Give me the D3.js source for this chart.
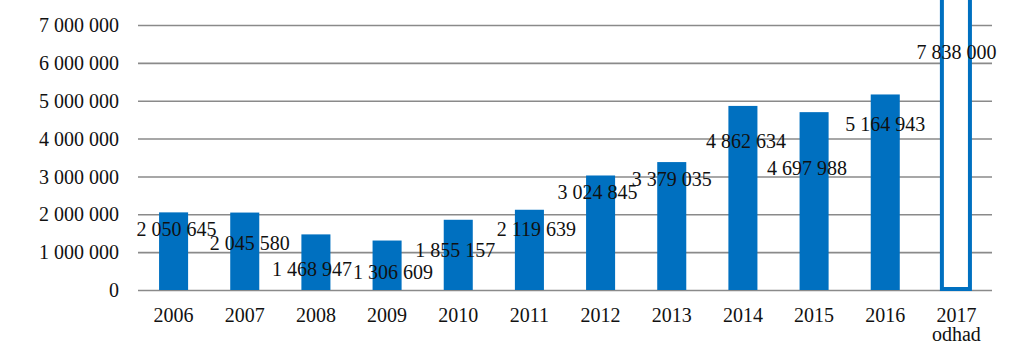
<!DOCTYPE html>
<html>
<head>
<meta charset="utf-8">
<script src="https://cdn.jsdelivr.net/npm/d3@7"></script>
<style>
  html, body { margin: 0; padding: 0; background: #fff; }
  svg { display: block; }
  text { font-family: "Liberation Serif", "Times New Roman", serif; fill: #111; }
</style>
</head>
<body>
<svg id="chart" width="1024" height="353"></svg>
<script>
// ---- data ----
const years = ["2006", "2007", "2008", "2009", "2010", "2011", "2012", "2013", "2014", "2015", "2016", "2017"];
const yearNotes = ["", "", "", "", "", "", "", "", "", "", "", "odhad"];
const values = [2050645, 2045580, 1468947, 1306609, 1855157, 2119639, 3024845, 3379035, 4862634, 4697988, 5164943, 7838000];
const isEstimate = [false, false, false, false, false, false, false, false, false, false, false, true];
const yTicks = [0, 1000000, 2000000, 3000000, 4000000, 5000000, 6000000, 7000000];

// ---- layout (label nudges in px, relative to bar centre / bar top) ----
const labelDx = [3, 5, -4, 6, -3, 7, -3, 0, 3, -7, 0, 0];
const labelDy = [17, 31, 35, 32, 31, 20, 17, 17, 35, 56, 30, 59];

const margin = { left: 138, right: 32, top: 25, bottom: 63 };
const W = 1024, H = 353;
const innerW = W - margin.left - margin.right;
const innerH = H - margin.top - margin.bottom;

const svg = d3.select("#chart");
const g = svg.append("g").attr("transform", `translate(${margin.left},${margin.top})`);

const x = d3.scaleBand().domain(years).range([0, innerW]).paddingInner(0.592).paddingOuter(0.296);
const y = d3.scaleLinear().domain([0, 7000000]).range([innerH, 0]);

const locale = d3.formatLocale({ decimal: ",", thousands: " ", grouping: [3], currency: ["", ""] });
const fmt = locale.format(",d");

// gridlines + y labels
const yAxis = d3.axisLeft(y).tickValues(yTicks).tickSize(-innerW).tickPadding(19).tickFormat(fmt);
const ya = g.append("g").call(yAxis);
ya.select(".domain").remove();
ya.selectAll(".tick line").attr("stroke", "#8a8a8a").attr("stroke-width", 1.6);
ya.selectAll(".tick text")
  .attr("font-family", "Liberation Serif, serif")
  .attr("font-size", 20).attr("fill", "#111").attr("dy", "0.33em");

// bars
const data = years.map((yr, i) => ({ yr, v: values[i], est: isEstimate[i], note: yearNotes[i], i }));

g.selectAll("rect.bar").data(data.filter(d => !d.est)).enter().append("rect")
  .attr("class", "bar")
  .attr("x", d => x(d.yr)).attr("width", x.bandwidth())
  .attr("y", d => y(d.v)).attr("height", d => y(0) - y(d.v))
  .attr("fill", "#0070C0");

g.selectAll("rect.est").data(data.filter(d => d.est)).enter().append("rect")
  .attr("class", "est")
  .attr("x", d => x(d.yr)).attr("width", x.bandwidth() - 1)
  .attr("y", d => y(d.v)).attr("height", d => y(0) - y(d.v) - 1)
  .attr("fill", "#fff").attr("stroke", "#0070C0").attr("stroke-width", 4);

// data labels
g.selectAll("text.lbl").data(data).enter().append("text")
  .attr("class", "lbl")
  .attr("x", d => x(d.yr) + x.bandwidth() / 2 + labelDx[d.i])
  .attr("y", d => y(d.v) + labelDy[d.i])
  .attr("dy", "0.33em")
  .attr("text-anchor", "middle")
  .attr("font-size", 20)
  .text(d => fmt(d.v));

// x labels
const xl = g.selectAll("text.xl").data(data).enter().append("text")
  .attr("class", "xl")
  .attr("text-anchor", "middle")
  .attr("font-size", 20)
  .attr("x", d => x(d.yr) + x.bandwidth() / 2)
  .attr("y", innerH + 32);
xl.append("tspan").text(d => d.yr);
xl.filter(d => d.note).append("tspan")
  .attr("x", d => x(d.yr) + x.bandwidth() / 2)
  .attr("dy", 19)
  .text(d => d.note);
</script>
</body>
</html>
